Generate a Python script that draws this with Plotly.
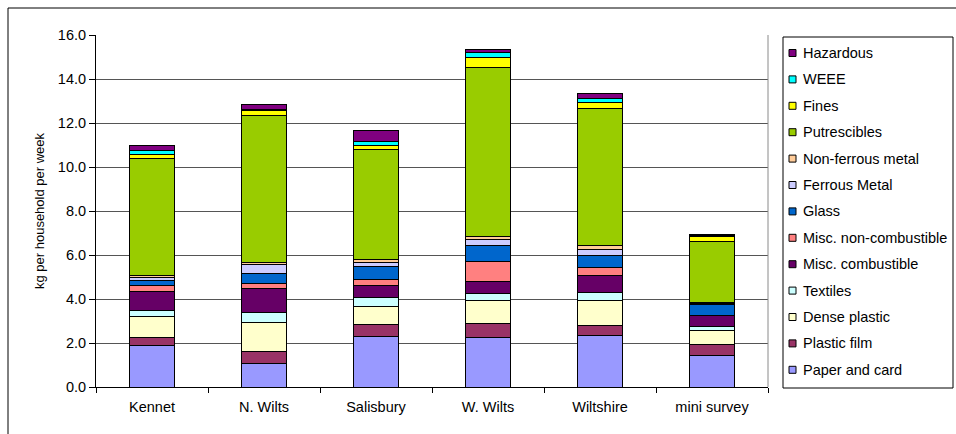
import plotly.graph_objects as go

# Districts along the x axis
districts = ["Kennet", "N. Wilts", "Salisbury", "W. Wilts", "Wiltshire", "mini survey"]

# Waste components, bottom of the stack first (kg per household per week)
paper_and_card = [1.90, 1.06, 2.31, 2.24, 2.32, 1.44]
plastic_film = [0.36, 0.56, 0.51, 0.64, 0.48, 0.50]
dense_plastic = [0.94, 1.33, 0.82, 1.03, 1.13, 0.64]
textiles = [0.30, 0.45, 0.44, 0.32, 0.36, 0.18]
misc_combustible = [0.86, 1.09, 0.53, 0.57, 0.76, 0.51]
misc_non_combustible = [0.24, 0.22, 0.29, 0.90, 0.38, 0.00]
glass = [0.25, 0.47, 0.59, 0.74, 0.56, 0.46]
ferrous_metal = [0.12, 0.38, 0.19, 0.26, 0.28, 0.05]
non_ferrous_metal = [0.09, 0.08, 0.12, 0.13, 0.15, 0.05]
putrescibles = [5.34, 6.68, 5.00, 7.70, 6.26, 2.79]
fines = [0.19, 0.25, 0.19, 0.46, 0.26, 0.20]
weee = [0.18, 0.06, 0.18, 0.22, 0.18, 0.05]
hazardous = [0.21, 0.22, 0.47, 0.11, 0.23, 0.08]

y_ticks = [0, 2, 4, 6, 8, 10, 12, 14, 16]

series = [
    ("Paper and card", paper_and_card, "#9999FF"),
    ("Plastic film", plastic_film, "#993366"),
    ("Dense plastic", dense_plastic, "#FFFFCC"),
    ("Textiles", textiles, "#CCFFFF"),
    ("Misc. combustible", misc_combustible, "#660066"),
    ("Misc. non-combustible", misc_non_combustible, "#FF8080"),
    ("Glass", glass, "#0066CC"),
    ("Ferrous Metal", ferrous_metal, "#CCCCFF"),
    ("Non-ferrous metal", non_ferrous_metal, "#FFCC99"),
    ("Putrescibles", putrescibles, "#99CC00"),
    ("Fines", fines, "#FFFF00"),
    ("WEEE", weee, "#00FFFF"),
    ("Hazardous", hazardous, "#800080"),
]

font = "Liberation Sans, Arial, sans-serif"
label_size = 14.5

# Plot-area geometry in pixels, used to place the frame and legend box
W, H = 956, 434
L, R, T, B = 96, 188, 35, 47
PW, PH = W - L - R, H - T - B


def px(x):
    return (x - L) / PW


def py(y):
    return (H - B - y) / PH


fig = go.Figure()
for name, values, color in series:
    fig.add_trace(go.Bar(
        x=districts, y=values, name=name,
        marker=dict(color=color, line=dict(color="black", width=1)),
        width=0.41,
    ))

shapes = [
    # outer chart frame
    dict(type="rect", xref="paper", yref="paper",
         x0=px(8), x1=3, y0=-1, y1=py(8),
         line=dict(color="black", width=1), layer="below"),
    # right edge of the plot area
    dict(type="line", xref="paper", yref="paper", x0=1, x1=1, y0=0, y1=1,
         line=dict(color="#8a8a8a", width=1)),
    # legend box
    dict(type="rect", xref="paper", yref="paper",
         x0=px(783), x1=px(953), y0=py(388), y1=py(37),
         line=dict(color="black", width=1), fillcolor="white"),
]
annotations = []

# legend entries: top of the stack listed first
first_y, step = 53, 26.4
for i, (name, values, color) in enumerate(reversed(series)):
    cy = first_y + step * i
    shapes.append(dict(
        type="rect", xref="paper", yref="paper",
        x0=px(789), x1=px(796), y0=py(cy + 3.5), y1=py(cy - 3.5),
        fillcolor=color, line=dict(color="black", width=1),
    ))
    annotations.append(dict(
        xref="paper", yref="paper", x=px(801), y=py(cy),
        xanchor="left", yanchor="middle", text=name, showarrow=False,
        font=dict(family=font, size=label_size, color="black"),
    ))

fig.update_layout(
    width=W, height=H,
    margin=dict(l=L, r=R, t=T, b=B),
    barmode="stack",
    paper_bgcolor="white", plot_bgcolor="white",
    font=dict(family=font, size=label_size, color="black"),
    showlegend=False,
    xaxis=dict(
        showline=True, linecolor="black", linewidth=1,
        ticks="outside", tickson="boundaries", ticklen=5, tickcolor="black",
        showgrid=False, tickfont=dict(size=label_size), ticklabelstandoff=7,
    ),
    yaxis=dict(
        range=[0, 16], tickvals=y_ticks, tickformat=".1f",
        showline=True, linecolor="black", linewidth=1,
        ticks="outside", ticklen=6, tickcolor="black",
        showgrid=True, gridcolor="#555555", gridwidth=1,
        zeroline=False, tickfont=dict(size=label_size),
        title=dict(text="kg per household per week", font=dict(size=13), standoff=10),
    ),
    shapes=shapes,
    annotations=annotations,
)

fig.write_html("out.html")
